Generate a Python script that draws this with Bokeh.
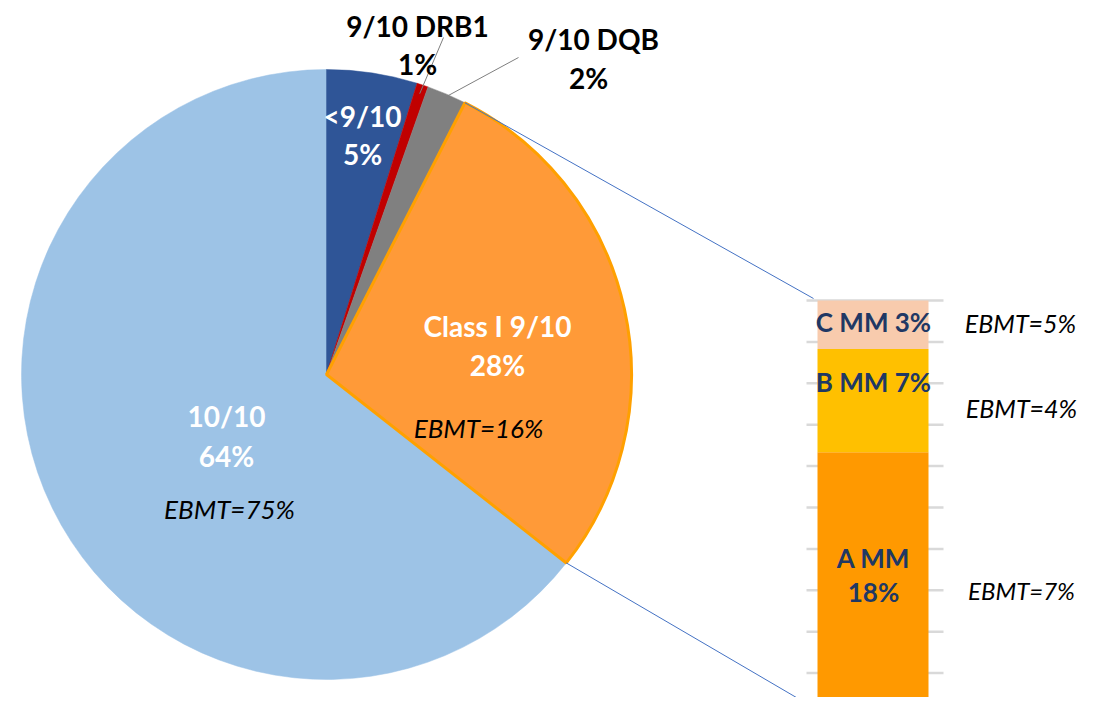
import math
from bokeh.plotting import figure
from bokeh.models import Range1d
from bokeh.core.properties import value
from bokeh.embed import file_html
from bokeh.resources import INLINE

# ---------------- data ----------------
pie_names = ["<9/10", "9/10 DRB1", "9/10 DQB", "Class I 9/10", "10/10"]
pie_values = [4.8, 0.6, 2.1, 28.1, 64.4]          # % (clockwise from 12 o'clock)
pie_labels = ["5%", "1%", "2%", "28%", "64%"]
pie_colors = ["#2F5597", "#C00000", "#808080", "#FF9A38", "#9DC3E6"]
pie_ebmt = ["", "", "", "EBMT=16%", "EBMT=75%"]

bar_names = ["A MM", "B MM", "C MM"]               # bottom -> top
bar_values = [17.8, 7.0, 3.3]
bar_labels = ["18%", "7%", "3%"]
bar_colors = ["#FF9900", "#FFC000", "#F8CBAD"]
bar_ebmt = ["EBMT=7%", "EBMT=4%", "EBMT=5%"]

# ---------------- layout ----------------
W, H = 1078, 697
IMG_H = 713
def Y(yref):
    return IMG_H - yref

CX, CY, R = 326, Y(374), 305
BAR_X0, BAR_X1 = 817, 928
BAR_BOT_REF, BAR_TOP_REF = 714, 300

p = figure(width=W, height=H, output_backend="svg", toolbar_location=None,
           x_range=Range1d(0, W), y_range=Range1d(IMG_H - H, IMG_H),
           min_border=0, x_axis_location=None, y_axis_location=None)
p.outline_line_color = None
p.xgrid.visible = False
p.ygrid.visible = False
p.background_fill_color = "white"
p.border_fill_color = "white"

# bar value range (percent), mapped so that 0 -> BAR_BOT_REF, total -> BAR_TOP_REF
total_bar = sum(bar_values)
k = (BAR_BOT_REF - BAR_TOP_REF) / total_bar
p.extra_y_ranges = {"bar": Range1d((BAR_BOT_REF - H) / k, BAR_BOT_REF / k)}

# ---------------- pie ----------------
total = sum(pie_values)
cum = [0.0]
for v in pie_values:
    cum.append(cum[-1] + v)
def ang(c):
    return math.pi / 2 - 2 * math.pi * c / total

starts = [ang(cum[i + 1]) for i in range(len(pie_values))]
ends = [ang(cum[i]) for i in range(len(pie_values))]
order = [4, 0, 1, 2, 3]
for i in order:
    p.wedge(x=CX, y=CY, radius=R, start_angle=starts[i], end_angle=ends[i],
            fill_color=pie_colors[i],
            line_color="#FFA000" if i == 3 else pie_colors[i],
            line_width=3 if i == 3 else 0.5)

# connector lines (blue) from Class I slice edges to bar
ci = 3
a_top = ang(cum[ci])
a_bot = ang(cum[ci + 1])
p.segment(x0=[CX + R * math.cos(a_top), CX + R * math.cos(a_bot)],
          y0=[CY + R * math.sin(a_top), CY + R * math.sin(a_bot)],
          x1=[813, 813], y1=[Y(298), Y(707)],
          line_color="#4472C4", line_width=1)

# leader lines for the two small slices
def mid_pt(i, rr):
    a = ang((cum[i] + cum[i + 1]) / 2)
    return CX + rr * math.cos(a), CY + rr * math.sin(a)
l1 = mid_pt(1, R * 0.97)
l2 = mid_pt(2, R * 0.99)
p.segment(x0=[l1[0], l2[0]], y0=[l1[1], l2[1]],
          x1=[443, 518], y1=[Y(37), Y(57)],
          line_color="#7F7F7F", line_width=1)

FONT = value("Lato")
def txt(x, y, t, color, size, style="bold", align="center"):
    p.text(x=[x], y=[Y(y)], text=[t], text_color=color, text_font=FONT,
           text_font_size=f"{size}px", text_font_style=style,
           text_align=align, text_baseline="middle")

# pie labels
txt(362, 115, pie_names[0], "white", 28)
txt(362, 153, pie_labels[0], "white", 28)
txt(417, 25, pie_names[1], "black", 28)
txt(417, 63, pie_labels[1], "black", 28)
txt(593, 38, pie_names[2], "black", 28)
txt(588, 77, pie_labels[2], "black", 28)
txt(497, 325, pie_names[3], "white", 28)
txt(497, 364, pie_labels[3], "white", 28)
txt(478, 427, pie_ebmt[3], "black", 26, "italic")
txt(226, 415, pie_names[4], "white", 28)
txt(226, 455, pie_labels[4], "white", 28)
txt(229, 508, pie_ebmt[4], "black", 26, "italic")

# ---------------- bar ----------------
ticks = [total_bar * i / 10 for i in range(11)]
p.segment(x0=[806] * len(ticks), x1=[943] * len(ticks), y0=ticks, y1=ticks,
          line_color="#D9D9D9", line_width=2.5, y_range_name="bar")
bcum = [0.0]
for v in bar_values:
    bcum.append(bcum[-1] + v)
p.vbar(x=[(BAR_X0 + BAR_X1) / 2] * 3, width=BAR_X1 - BAR_X0,
       bottom=bcum[:-1], top=bcum[1:], fill_color=bar_colors, line_color=None,
       y_range_name="bar")

NAVY = "#203864"
txt(873, 557, bar_names[0], NAVY, 26)
txt(873, 591, bar_labels[0], NAVY, 26)
txt(873, 381, bar_names[1] + " " + bar_labels[1], NAVY, 26)
txt(873, 321, bar_names[2] + " " + bar_labels[2], NAVY, 26)
txt(1021, 590, bar_ebmt[0], "black", 24, "italic")
txt(1021, 407, bar_ebmt[1], "black", 25, "italic")
txt(1020, 322, bar_ebmt[2], "black", 25, "italic")

open("out.html", "w").write(file_html(p, INLINE))
